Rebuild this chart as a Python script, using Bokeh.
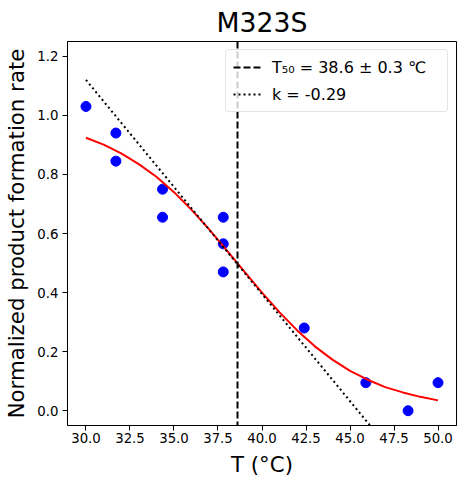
from bokeh.plotting import figure
from bokeh.embed import file_html
from bokeh.resources import INLINE
from bokeh.models import FixedTicker, PrintfTickFormatter, Range1d, Legend, LegendItem

# ---- data ----
temperature = [30.0, 31.7, 31.7, 34.35, 34.35, 37.8, 37.8, 37.8, 42.4, 45.9, 48.3, 50.0]
rate = [1.03, 0.94, 0.845, 0.75, 0.655, 0.655, 0.565, 0.47, 0.28, 0.095, 0.0, 0.095]

fit_T = [30.0, 31.0, 32.0, 33.0, 34.0, 35.0, 36.0, 37.0, 38.0, 39.0, 40.0,
         41.0, 42.0, 43.0, 44.0, 45.0, 46.0, 47.0, 48.0, 49.0, 50.0]
fit_rate = [0.924, 0.901, 0.871, 0.835, 0.792, 0.740, 0.680, 0.614, 0.543, 0.471, 0.400,
            0.333, 0.272, 0.218, 0.173, 0.135, 0.105, 0.080, 0.062, 0.047, 0.035]

t50 = 38.6
t50_err = 0.3
k = -0.29
tangent_T = [30.0, 50.0]
tangent_rate = [1.12, -0.33]

x_ticks = [30.0, 32.5, 35.0, 37.5, 40.0, 42.5, 45.0, 47.5, 50.0]
y_ticks = [0.0, 0.2, 0.4, 0.6, 0.8, 1.0, 1.2]

FONT = "DejaVu Sans"
DASH = "7 3"
DOT = "2 3"

p = figure(width=464, height=487, output_backend="svg", toolbar_location=None,
           x_range=Range1d(28.95, 51.05), y_range=Range1d(-0.05, 1.25),
           title="M323S",
           min_border_left=67, min_border_right=8, min_border_top=41, min_border_bottom=62)

p.title.align = "center"
p.title.text_font = FONT
p.title.text_font_size = "26.7px"
p.title.text_font_style = "normal"
p.title.text_color = "black"
p.title.standoff = 8
p.title.offset = -3

p.xgrid.visible = False
p.ygrid.visible = False
p.outline_line_color = "black"
p.outline_line_width = 1
p.outline_line_alpha = 1
p.background_fill_color = "white"
p.border_fill_color = "white"

p.xaxis.axis_label = "T (°C)"
p.yaxis.axis_label = "Normalized product formation rate"
p.xaxis.ticker = FixedTicker(ticks=x_ticks)
p.yaxis.ticker = FixedTicker(ticks=y_ticks)
p.xaxis.formatter = PrintfTickFormatter(format="%.1f")
p.yaxis.formatter = PrintfTickFormatter(format="%.1f")
for ax in (p.xaxis, p.yaxis):
    ax.axis_label_text_font = FONT
    ax.axis_label_text_font_size = "21.3px"
    ax.axis_label_text_font_style = "normal"
    ax.axis_label_text_color = "black"
    ax.major_label_text_font = FONT
    ax.major_label_text_font_size = "13.3px"
    ax.major_label_text_color = "black"
    ax.axis_line_color = "black"
    ax.major_tick_line_color = "black"
    ax.major_tick_out = 5
    ax.major_tick_in = 0
    ax.minor_tick_out = 0
    ax.minor_tick_in = 0
p.xaxis.major_label_standoff = 2
p.xaxis.axis_label_standoff = 6
p.yaxis.major_label_standoff = 4
p.yaxis.axis_label_standoff = 5

p.scatter(temperature, rate, size=10, color="blue")
p.line(fit_T, fit_rate, line_color="red", line_width=2)
r_v = p.vspan(x=[t50], line_color="black", line_dash=DASH, line_width=2)
r_t = p.line(tangent_T, tangent_rate, line_color="black", line_dash=DOT, line_width=2)

legend = Legend(items=[
    LegendItem(label=f"T₅₀ = {t50} ± {t50_err} ℃", renderers=[r_v]),
    LegendItem(label=f"k = {k}", renderers=[r_t]),
], location="top_right")
legend.label_text_font = FONT
legend.label_text_font_size = "16px"
legend.label_text_color = "black"
legend.glyph_width = 30
legend.glyph_height = 20
legend.label_height = 20
legend.label_width = 168
legend.label_standoff = 9
legend.padding = 7
legend.spacing = 7
legend.margin = 8
legend.border_line_color = "#cccccc"
legend.border_line_width = 1
legend.background_fill_color = "white"
legend.background_fill_alpha = 0.8
legend.border_radius = 4
p.add_layout(legend)

open("out.html", "w").write(file_html(p, INLINE))
